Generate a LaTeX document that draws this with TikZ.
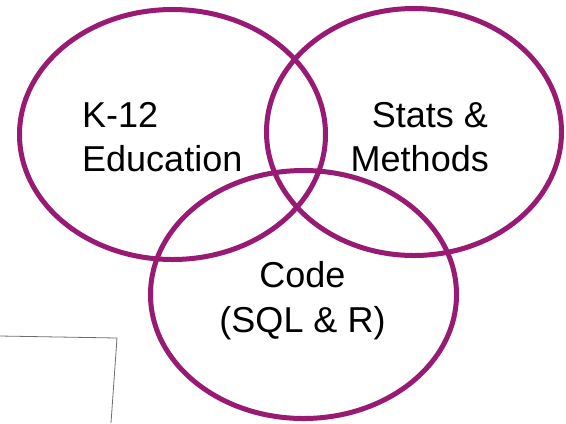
\documentclass[tikz,border=0pt]{standalone}
\usepackage{fontspec}
\setmainfont{Liberation Sans}
\definecolor{vennpurple}{RGB}{152,26,115}
\definecolor{boxgray}{RGB}{110,110,110}
\begin{document}
\begin{tikzpicture}[x=1bp,y=-1bp,
  ring/.style={draw=vennpurple,line width=5bp},
  lbl/.style={inner sep=0pt,font=\fontsize{36bp}{44bp}\selectfont},
  frame/.style={draw=boxgray,line width=0.8bp}]
\useasboundingbox (0,0) rectangle (566,423);
\draw[ring] (172.5,134.5) ellipse [x radius=153, y radius=125];
\draw[ring] (414,132) ellipse [x radius=147.5, y radius=123.5];
\draw[ring] (303.5,294.5) ellipse [x radius=153, y radius=124];
\node[lbl,anchor=base west] (k12) at (82,127) {K-12};
\node[lbl,anchor=base west] (edu) at (82,171) {Education};
\node[lbl,anchor=base east] (stats) at (488,127) {Stats \&};
\node[lbl,anchor=base east] (meth) at (489,171) {Methods};
\node[lbl,anchor=base] (code) at (302.5,287) {Code};
\node[lbl,anchor=base] (sql) at (302.5,332) {(SQL \& R)};
\coordinate (f1) at (0,336);
\coordinate (f2) at (117,338);
\coordinate (f3) at (111,423);
\draw[frame] (f1) -- (f2) -- (f3);
\end{tikzpicture}
\end{document}
